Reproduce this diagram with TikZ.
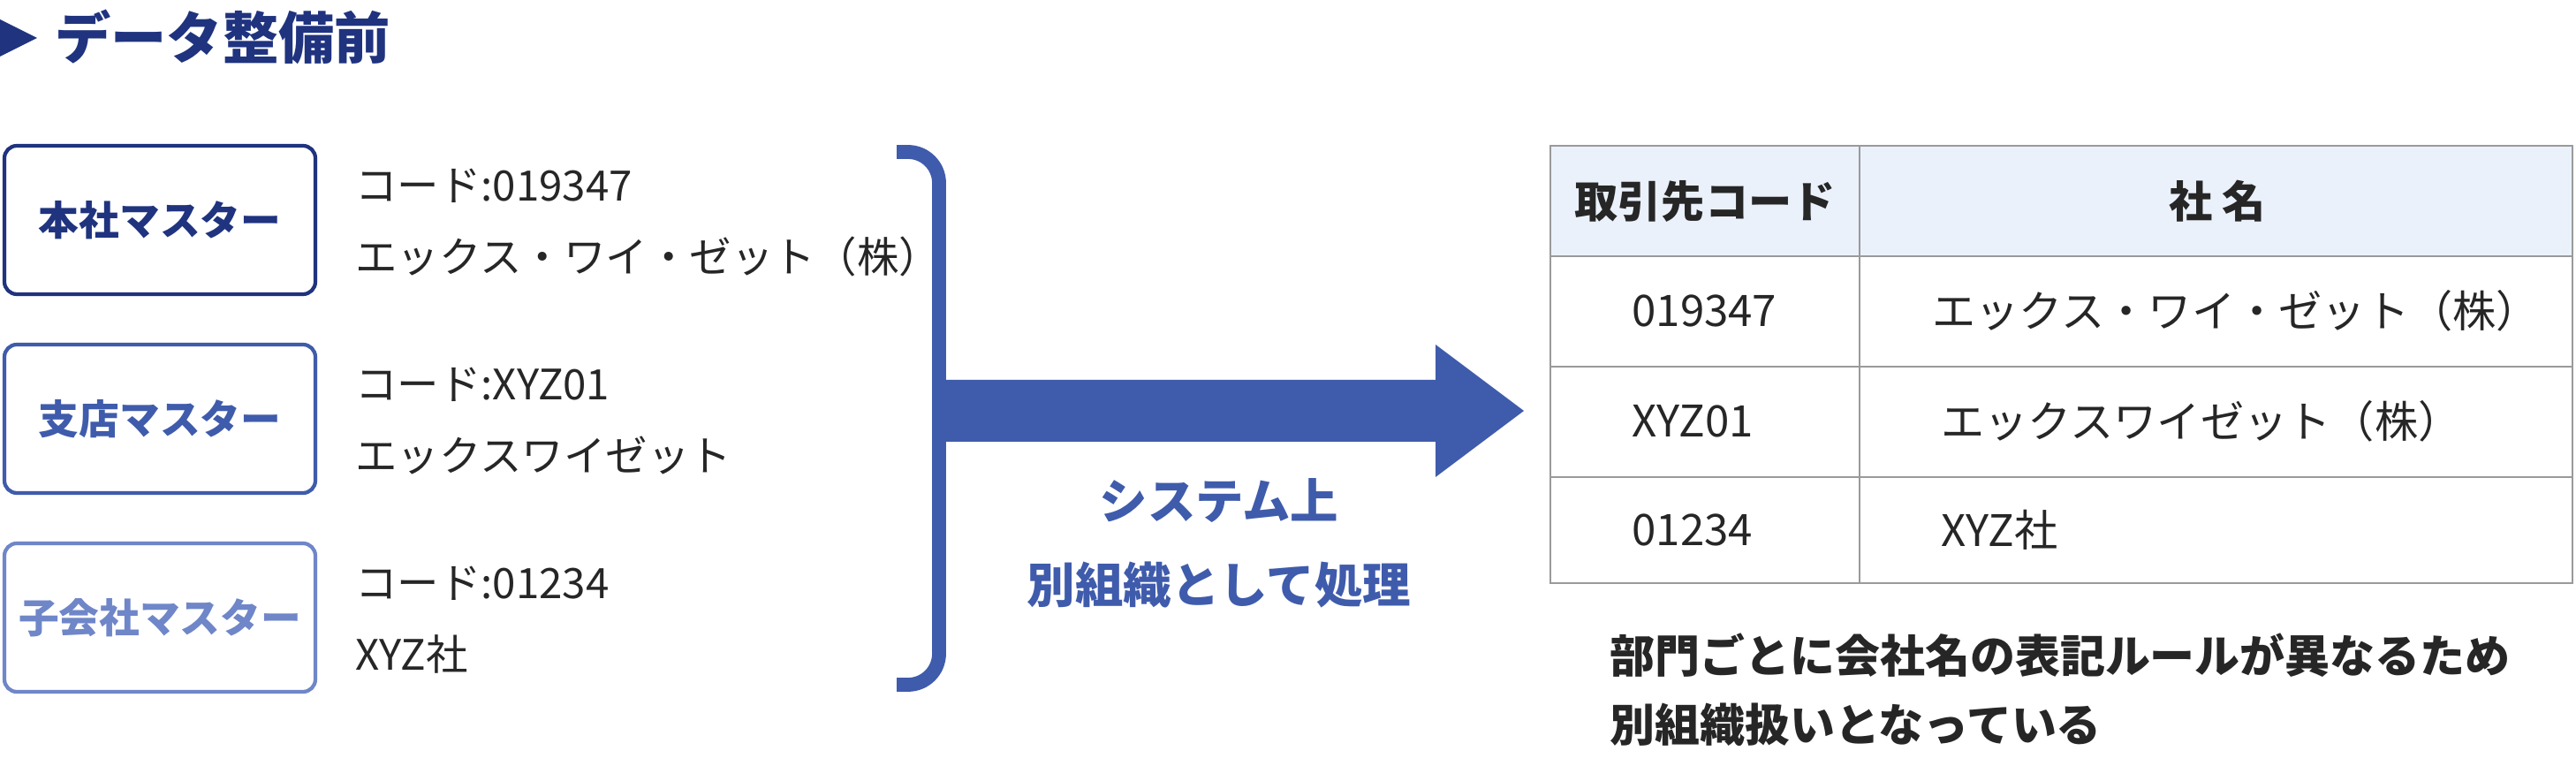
\documentclass[tikz,border=0pt]{standalone}
\usepackage{fontspec}
\setmainfont{Noto Sans CJK JP}
\usetikzlibrary{positioning,arrows.meta}
\definecolor{navy}{HTML}{1F337F}
\definecolor{midblue}{HTML}{3F5BAB}
\definecolor{liteblue}{HTML}{6F86C8}
\definecolor{headbg}{HTML}{EAF1FB}
\definecolor{gridc}{HTML}{9A9A9A}
\tikzset{
  master/.style={draw,rounded corners=4pt,line width=1.2pt,minimum width=3.52cm,minimum height=1.68cm,font=\fontsize{13}{15}\selectfont\bfseries},
  info/.style={anchor=west,font=\fontsize{13.5}{16}\selectfont,text=black!85},
  cell/.style={font=\fontsize{14}{16}\selectfont,text=black!85},
  note/.style={anchor=west,font=\fontsize{14.5}{16}\selectfont\bfseries,text=black!85}
}
\begin{document}
\begin{tikzpicture}[x=1cm,y=1cm]
  \useasboundingbox (0,0) rectangle (29.16,-8.67);
  % title
  \fill[navy] (0,-0.22) -- (0.42,-0.43) -- (0,-0.64) -- cycle;
  \node[anchor=west,text=navy,font=\fontsize{18}{20}\selectfont\bfseries] (title) at (0.5,-0.42) {データ整備前};

  % masters
  \node[master,draw=navy,text=navy] (honsha) at (1.81,-2.49) {本社マスター};
  \node[master,draw=midblue,text=midblue] (shiten) at (1.81,-4.74) {支店マスター};
  \node[master,draw=liteblue,text=liteblue] (kogaisha) at (1.81,-6.99) {子会社マスター};

  \node[info] (c1) at (3.9,-2.1) {コード:019347};
  \node[info] (n1) at (3.9,-2.9) {エックス・ワイ・ゼット（株）};
  \node[info] (c2) at (3.9,-4.35) {コード:XYZ01};
  \node[info] (n2) at (3.9,-5.15) {エックスワイゼット};
  \node[info] (c3) at (3.9,-6.6) {コード:01234};
  \node[info] (n3) at (3.9,-7.4) {XYZ社};

  % bracket and arrow
  \draw[midblue,line width=4.5pt,rounded corners=10pt] (10.15,-1.72) -- (10.63,-1.72) -- (10.63,-7.75) -- (10.15,-7.75);
  \fill[midblue] (10.7,-4.3) -- (16.25,-4.3) -- (16.25,-3.9) -- (17.25,-4.65) -- (16.25,-5.4) -- (16.25,-5.0) -- (10.7,-5.0) -- cycle;
  \node[text=midblue,font=\fontsize{15.5}{17}\selectfont\bfseries,align=center] (proc) at (13.8,-6.15) {システム上\\[0.35cm]別組織として処理};

  % table
  \fill[headbg] (17.55,-1.65) rectangle (29.12,-2.9);
  \draw[gridc,line width=0.8pt] (17.55,-1.65) rectangle (29.12,-6.6);
  \foreach \y in {-2.9,-4.15,-5.4} \draw[gridc,line width=0.8pt] (17.55,\y) -- (29.12,\y);
  \draw[gridc,line width=0.8pt] (21.05,-1.65) -- (21.05,-6.6);
  \node[cell,font=\fontsize{14}{16}\selectfont\bfseries] (h1) at (19.3,-2.28) {取引先コード};
  \node[cell,font=\fontsize{14}{16}\selectfont\bfseries] (h2) at (25.1,-2.28) {社\ 名};
  \node[cell,anchor=west] (r1a) at (18.35,-3.52) {019347};
  \node[cell,anchor=west] (r1b) at (21.75,-3.52) {エックス・ワイ・ゼット（株）};
  \node[cell,anchor=west] (r2a) at (18.35,-4.77) {XYZ01};
  \node[cell,anchor=west] (r2b) at (21.85,-4.77) {エックスワイゼット（株）};
  \node[cell,anchor=west] (r3a) at (18.35,-6.0) {01234};
  \node[cell,anchor=west] (r3b) at (21.85,-6.0) {XYZ社};

  \node[note] (note1) at (18.1,-7.42) {部門ごとに会社名の表記ルールが異なるため};
  \node[note] (note2) at (18.1,-8.2) {別組織扱いとなっている};
\end{tikzpicture}
\end{document}
